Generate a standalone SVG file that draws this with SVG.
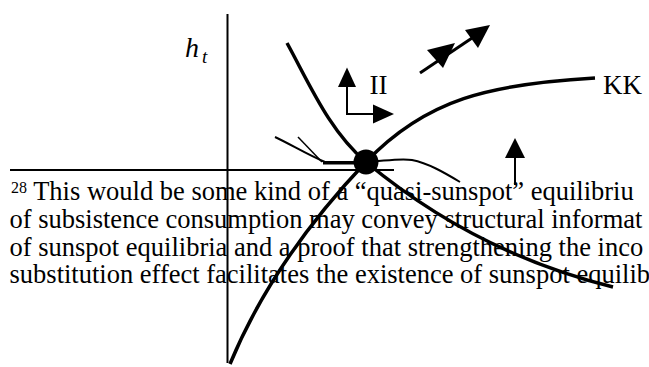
<svg xmlns="http://www.w3.org/2000/svg" width="649" height="367" viewBox="0 0 649 367">
<style>
.ax{stroke:#000;stroke-width:2;fill:none}
.thick{stroke:#000;stroke-width:3.5;fill:none;stroke-linecap:butt}
.thin{stroke:#000;stroke-width:2;fill:none}
.arr{stroke:#000;stroke-width:2;fill:none}
.head{fill:#000;stroke:none}
.lbl{font-family:"Liberation Serif","Times New Roman",serif;fill:#000}
.fn{font-family:"Liberation Serif","Times New Roman",serif;font-size:26.5px;fill:#000}
</style>
<rect width="649" height="367" fill="#fff"/>
<g id="footnote">
<text class="fn" x="11" y="200"><tspan font-size="16" dy="-7">28</tspan><tspan dy="7"> This would be some kind of a “quasi-sunspot” equilibriu</tspan></text>
<text class="fn" x="9.5" y="228">of subsistence consumption may convey structural informat</text>
<text class="fn" x="9.5" y="256">of sunspot equilibria and a proof that strengthening the inco</text>
<text class="fn" x="9.5" y="283">substitution effect facilitates the existence of sunspot equilib</text>
</g>
<g id="axes">
<line class="ax" x1="227.5" y1="14" x2="227.5" y2="363"/>
<line class="ax" x1="10" y1="170" x2="394" y2="170"/>
</g>
<g id="connectors">
<path id="curveA" class="thick" d="M287,43 C310,85 329.5,131 366,162 C436,220 520,264 613,287"/>
<path id="curveB" class="thick" d="M230,364 C261,289 310,221 366,162 C426,99 490,84 595,78"/>
<path id="curveC" class="thin" d="M275,137 C290,144 310,156 325,162 L366,162 C385,161 400,158 412,160 C428,163 445,173 460,182"/>
<line class="thick" x1="323" y1="163" x2="356" y2="163" style="stroke-width:3"/>
<line id="lineD" class="thin" x1="298" y1="137" x2="322" y2="162" style="stroke-width:1.5"/>
</g>
<g id="equilibrium">
<circle cx="366" cy="162" r="12.5" fill="#000"/>
</g>
<g id="arrows-II">
<polyline class="arr" points="347,86 347,114 374,114"/>
<polygon class="head" points="347,67.5 338,87 356,87"/>
<polygon class="head" points="394,114 373,104.5 373,123.5"/>
</g>
<g id="arrow-diagonal">
<line class="arr" x1="420" y1="73" x2="478" y2="34" style="stroke-width:3"/>
<polygon class="head" points="455,43 427,50 443,68"/>
<polygon class="head" points="490,25 465,30 478,48"/>
</g>
<g id="arrow-up">
<line class="arr" x1="515" y1="156" x2="515" y2="185"/>
<polygon class="head" points="515,138 505,158 525,158"/>
</g>
<g id="labels">
<text class="lbl" x="185" y="57" font-size="28" font-style="italic">h</text>
<text class="lbl" x="202" y="63" font-size="19" font-style="italic">t</text>
<text class="lbl" x="369.5" y="93.5" font-size="27">II</text>
<text class="lbl" x="603" y="94" font-size="27">KK</text>
</g>
</svg>
